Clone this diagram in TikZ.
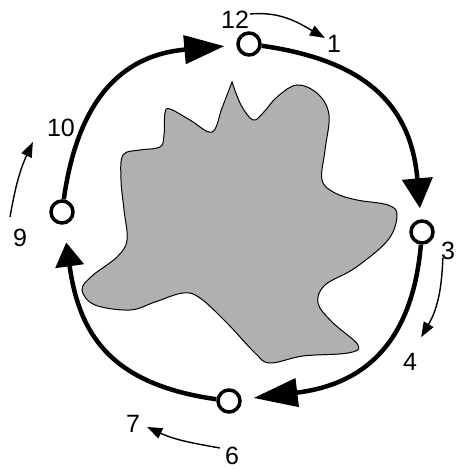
\documentclass[tikz,border=0pt]{standalone}
\usepackage{fontspec}
\setmainfont{Liberation Sans}
\usetikzlibrary{arrows.meta}
\definecolor{blobgray}{RGB}{176,176,176}
\begin{document}
\begin{tikzpicture}[x=1pt,y=1pt,
  dot/.style={circle,draw,line width=3.5pt,minimum size=22pt,inner sep=0pt,fill=white},
  loopline/.style={line width=4.5pt,looseness=1.2},
  num/.style={font=\fontsize{25}{30}\selectfont,inner sep=1pt},
  hint/.style={line width=1.4pt,-{Triangle[length=15pt,width=11pt]}},
  blob/.style={fill=blobgray,draw=black,line width=1pt}]
\useasboundingbox (0,0) rectangle (455,470);
% blob
\draw[blob] plot[smooth,tension=0.6] coordinates {
(232,388) (241,365) (253,350) (263,357) (277,373) (297,385) (318,376) (329,355)
(325,320) (322,290) (335,277) (357,270) (388,265) (397,255) (388,230) (355,202)
(325,185) (318,167) (332,148) (358,125) (348,117) (303,114) (270,107) (255,117)
(227,147) (200,172) (183,177) (155,168) (130,160) (95,165) (82,180) (92,194)
(117,213) (127,230) (124,260) (121,290) (123,315) (140,320) (160,323) (164,335)
(165,357) (170,361) (190,350) (212,338) (222,362) (232,388)} -- cycle;
% circles
\node[dot] (T) at (249,426) {};
\node[dot] (R) at (422,238) {};
\node[dot] (B) at (229,69) {};
\node[dot] (L) at (62,258) {};
% loop arcs
\draw[loopline,-{Triangle[length=40pt,width=28pt]},shorten >=12pt] (L) to[out=82,in=185] (T);
\draw[loopline,-{Triangle[length=30pt,width=30pt]},shorten >=11pt] (T) to[out=-8,in=95] (R);
\draw[loopline,-{Triangle[length=44pt,width=28pt]},shorten >=12pt] (R) to[out=-95,in=7] (B);
\draw[loopline,-{Triangle[length=24pt,width=28pt]},shorten >=18pt] (B) to[out=172,in=-82] (L);
% labels
\node[num] (n12) at (235,450) {12};
\node[num] (n1) at (334,426) {1};
\node[num] (n10) at (61,342) {10};
\node[num] (n9) at (20,232) {9};
\node[num] (n3) at (448,219) {3};
\node[num] (n4) at (410,108) {4};
\node[num] (n7) at (133,46) {7};
\node[num] (n6) at (232,14) {6};
% hint arrows
\draw[hint] ([yshift=6pt]n12.east) to[out=5,in=150] ([shift={(-1,6)}]n1.west);
\draw[hint] ([shift={(-10,11)}]n9.north) to[out=80,in=-115] ([shift={(-13,-14)}]n10.west);
\draw[hint] ([shift={(3,-7)}]n3.west) to[out=-92,in=60] ([shift={(3,15)}]n4.north east);
\draw[hint] ([shift={(-4,8)}]n6.west) to[out=170,in=-25] ([shift={(6,-3)}]n7.east);
\end{tikzpicture}
\end{document}
